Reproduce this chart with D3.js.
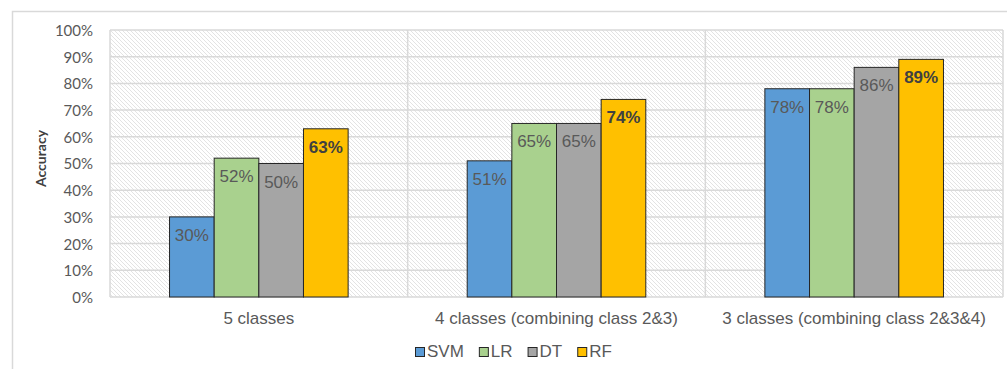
<!DOCTYPE html>
<html>
<head>
<meta charset="utf-8">
<script src="https://cdn.jsdelivr.net/npm/d3@7"></script>
<style>
  html, body { margin: 0; padding: 0; background: #fff; }
  svg { display: block; }
</style>
</head>
<body>
<svg id="chart" width="1007" height="369"></svg>
<script>
// Classification accuracy per model, for three class groupings
const categories = ["5 classes", "4 classes (combining class 2&3)", "3 classes (combining class 2&3&4)"];
const seriesNames = ["SVM", "LR", "DT", "RF"];
const svmValues = [30, 51, 78];
const lrValues  = [52, 65, 78];
const dtValues  = [50, 65, 86];
const rfValues  = [63, 74, 89];
const yTicks = [0, 10, 20, 30, 40, 50, 60, 70, 80, 90, 100];

const seriesValues = [svmValues, lrValues, dtValues, rfValues];
const colors = ["#5B9BD5", "#A9D18E", "#A5A5A5", "#FFC000"];

const svg = d3.select("#chart");
const W = 1007, H = 369;
const plot = { left: 110, right: 1003, top: 30, bottom: 297 };

// Outer chart frame (top and left edges visible)
svg.append("path")
  .attr("d", `M12.5,${H} V11.5 H${W}`)
  .attr("fill", "none").attr("stroke", "#d9d9d9").attr("stroke-width", 1.5);

// Diagonal hatch fill for the plot area
const defs = svg.append("defs");
const pat = defs.append("pattern")
  .attr("id", "hatch").attr("patternUnits", "userSpaceOnUse")
  .attr("width", 4).attr("height", 4);
pat.append("rect").attr("width", 4).attr("height", 4).attr("fill", "#ffffff");
pat.append("path")
  .attr("d", "M-1,3 L1,5 M-1,-1 L5,5 M3,-1 L5,1")
  .attr("stroke", "#e3e3e3").attr("stroke-width", 1);

const x0 = d3.scaleBand().domain(categories).range([plot.left, plot.right]).padding(0);
const x1 = d3.scaleBand().domain(seriesNames)
  .range([x0.bandwidth() * 0.2, x0.bandwidth() * 0.8]).padding(0);
const y = d3.scaleLinear().domain([0, 100]).range([plot.bottom, plot.top]);

svg.append("rect")
  .attr("x", plot.left).attr("y", plot.top)
  .attr("width", plot.right - plot.left).attr("height", plot.bottom - plot.top)
  .attr("fill", "url(#hatch)");

// Horizontal gridlines
svg.append("g").selectAll("line").data(yTicks).join("line")
  .attr("x1", plot.left).attr("x2", plot.right)
  .attr("y1", d => y(d)).attr("y2", d => y(d))
  .attr("stroke", "#d9d9d9").attr("stroke-width", 1.5);

// Vertical category dividers
const dividers = categories.map(c => x0(c)).concat([x0(categories[categories.length - 1]) + x0.bandwidth()]);
svg.append("g").selectAll("line").data(dividers).join("line")
  .attr("x1", d => d).attr("x2", d => d)
  .attr("y1", plot.top).attr("y2", plot.bottom)
  .attr("stroke", "#d9d9d9").attr("stroke-width", 1.5);

// Y axis tick labels
const yAxis = d3.axisLeft(y).tickValues(yTicks).tickSize(0).tickPadding(0)
  .tickFormat(d => d + "%");
const yg = svg.append("g").attr("transform", `translate(${plot.left - 17},0)`).call(yAxis);
yg.select(".domain").remove();
yg.selectAll("text")
  .attr("font-family", "Lato, 'Noto Sans', sans-serif")
  .attr("font-size", 15).attr("fill", "#595959").attr("dy", "0.36em");

// Axis title
svg.append("text")
  .attr("transform", `translate(46,${(plot.top + plot.bottom) / 2 - 5}) rotate(-90)`)
  .attr("text-anchor", "middle")
  .attr("font-family", "Lato, 'Noto Sans', sans-serif")
  .attr("font-weight", "bold").attr("font-size", 14).attr("fill", "#404040")
  .text("Accuracy");

// Bars
const barData = [];
categories.forEach((c, ci) => {
  seriesNames.forEach((s, si) => {
    barData.push({ cat: c, series: s, si, value: seriesValues[si][ci] });
  });
});

const gBars = svg.append("g");
gBars.selectAll("rect").data(barData).join("rect")
  .attr("x", d => x0(d.cat) + x1(d.series))
  .attr("y", d => y(d.value))
  .attr("width", x1.bandwidth())
  .attr("height", d => y(0) - y(d.value))
  .attr("fill", d => colors[d.si])
  .attr("stroke", "#262626").attr("stroke-width", 1);

// Value labels inside bar tops
gBars.selectAll("text").data(barData).join("text")
  .attr("x", d => x0(d.cat) + x1(d.series) + x1.bandwidth() / 2)
  .attr("y", d => y(d.value) + 24)
  .attr("text-anchor", "middle")
  .attr("font-family", "'Liberation Sans', Arial, sans-serif")
  .attr("font-size", 17)
  .attr("font-weight", d => d.series === "RF" ? "bold" : "normal")
  .attr("fill", d => d.series === "RF" ? "#404040" : "#595959")
  .text(d => d.value + "%");

// Category labels
svg.append("g").selectAll("text").data(categories).join("text")
  .attr("x", d => x0(d) + x0.bandwidth() / 2)
  .attr("y", 324)
  .attr("text-anchor", "middle")
  .attr("font-family", "'Liberation Sans', Arial, sans-serif")
  .attr("font-size", 17).attr("fill", "#595959")
  .text(d => d);

// Legend
const legend = svg.append("g");
let lx = 415;
seriesNames.forEach((s, i) => {
  legend.append("rect")
    .attr("x", lx + 0.5).attr("y", 347.5).attr("width", 9).attr("height", 9)
    .attr("fill", colors[i]).attr("stroke", "#262626").attr("stroke-width", 1);
  const t = legend.append("text")
    .attr("x", lx + 12).attr("y", 357)
    .attr("font-family", "'Liberation Sans', Arial, sans-serif")
    .attr("font-size", 17).attr("fill", "#595959")
    .text(s);
  lx += 12 + t.node().getComputedTextLength() + 15;
});
</script>
</body>
</html>
